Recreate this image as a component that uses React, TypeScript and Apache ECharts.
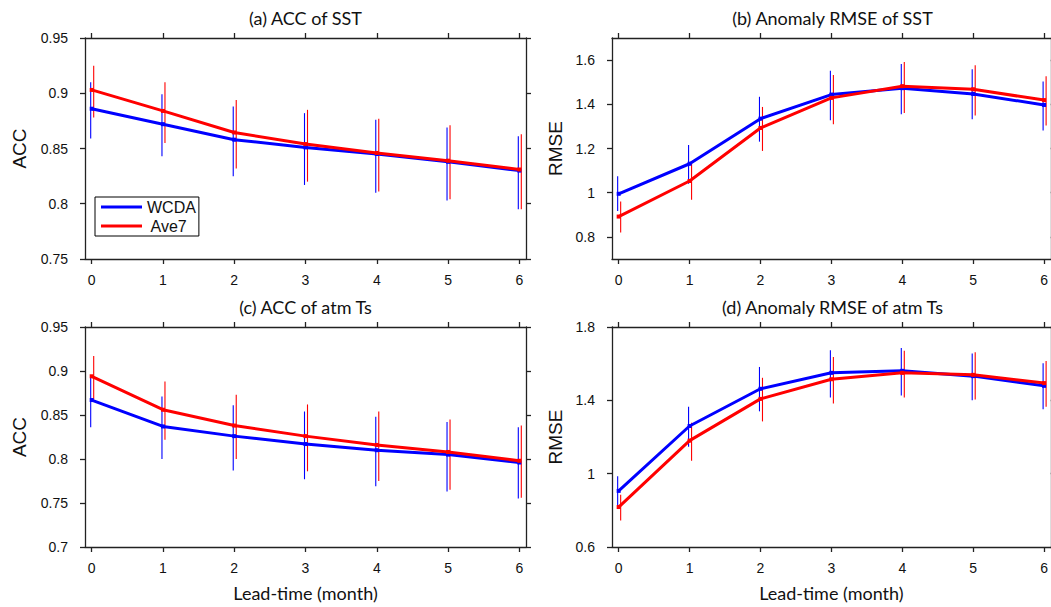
import React, { useEffect, useRef } from "react";
import * as echarts from "echarts";

const leads = [0, 1, 2, 3, 4, 5, 6];
const xTicks = [0, 1, 2, 3, 4, 5, 6];

// (a) ACC of SST
const accSstWcda = [0.886, 0.872, 0.858, 0.851, 0.845, 0.838, 0.83];
const accSstWcdaLo = [0.859, 0.843, 0.825, 0.817, 0.81, 0.803, 0.795];
const accSstWcdaHi = [0.91, 0.899, 0.888, 0.882, 0.876, 0.869, 0.861];
const accSstAve7 = [0.903, 0.884, 0.8645, 0.854, 0.846, 0.839, 0.831];
const accSstAve7Lo = [0.878, 0.855, 0.832, 0.82, 0.811, 0.804, 0.795];
const accSstAve7Hi = [0.925, 0.91, 0.894, 0.885, 0.877, 0.871, 0.863];

// (b) Anomaly RMSE of SST
const rmseSstWcda = [0.995, 1.131, 1.335, 1.444, 1.473, 1.447, 1.397];
const rmseSstWcdaLo = [0.917, 1.04, 1.231, 1.328, 1.355, 1.332, 1.282];
const rmseSstWcdaHi = [1.074, 1.216, 1.434, 1.552, 1.582, 1.559, 1.503];
const rmseSstAve7 = [0.892, 1.053, 1.293, 1.429, 1.482, 1.468, 1.419];
const rmseSstAve7Lo = [0.82, 0.968, 1.189, 1.31, 1.361, 1.349, 1.304];
const rmseSstAve7Hi = [0.96, 1.131, 1.388, 1.533, 1.591, 1.577, 1.527];

// (c) ACC of atm Ts
const accTsWcda = [0.867, 0.837, 0.826, 0.817, 0.81, 0.805, 0.796];
const accTsWcdaLo = [0.836, 0.8, 0.787, 0.777, 0.769, 0.763, 0.755];
const accTsWcdaHi = [0.894, 0.871, 0.861, 0.854, 0.848, 0.842, 0.836];
const accTsAve7 = [0.894, 0.856, 0.838, 0.826, 0.816, 0.808, 0.798];
const accTsAve7Lo = [0.868, 0.822, 0.8, 0.786, 0.775, 0.765, 0.756];
const accTsAve7Hi = [0.917, 0.888, 0.873, 0.862, 0.854, 0.845, 0.838];

// (d) Anomaly RMSE of atm Ts
const rmseTsWcda = [0.906, 1.26, 1.463, 1.55, 1.561, 1.532, 1.479];
const rmseTsWcdaLo = [0.821, 1.147, 1.34, 1.416, 1.427, 1.401, 1.352];
const rmseTsWcdaHi = [0.986, 1.365, 1.582, 1.673, 1.686, 1.655, 1.602];
const rmseTsAve7 = [0.818, 1.18, 1.408, 1.515, 1.55, 1.539, 1.494];
const rmseTsAve7Lo = [0.745, 1.071, 1.285, 1.383, 1.416, 1.405, 1.365];
const rmseTsAve7Hi = [0.885, 1.278, 1.523, 1.637, 1.671, 1.662, 1.615];

const panelTitles = [
  "(a) ACC of SST",
  "(b) Anomaly RMSE of SST",
  "(c) ACC of atm Ts",
  "(d) Anomaly RMSE of atm Ts",
];
const yNames = ["ACC", "RMSE", "ACC", "RMSE"];
const yTicks = [
  [0.75, 0.8, 0.85, 0.9, 0.95],
  [0.8, 1, 1.2, 1.4, 1.6],
  [0.7, 0.75, 0.8, 0.85, 0.9, 0.95],
  [0.6, 1, 1.4, 1.8],
];
const yRanges = [
  [0.75, 0.95],
  [0.7, 1.7],
  [0.7, 0.95],
  [0.6, 1.8],
];
const xLabel = "Lead-time (month)";
const seriesNames = ["WCDA", "Ave7"];

const panels = [
  { w: accSstWcda, wl: accSstWcdaLo, wh: accSstWcdaHi, a: accSstAve7, al: accSstAve7Lo, ah: accSstAve7Hi },
  { w: rmseSstWcda, wl: rmseSstWcdaLo, wh: rmseSstWcdaHi, a: rmseSstAve7, al: rmseSstAve7Lo, ah: rmseSstAve7Hi },
  { w: accTsWcda, wl: accTsWcdaLo, wh: accTsWcdaHi, a: accTsAve7, al: accTsAve7Lo, ah: accTsAve7Hi },
  { w: rmseTsWcda, wl: rmseTsWcdaLo, wh: rmseTsWcdaHi, a: rmseTsAve7, al: rmseTsAve7Lo, ah: rmseTsAve7Hi },
];

const BLUE = "#0000ff";
const RED = "#ff0000";
const AXIS = "#222";
const TICK_FONT = "'Liberation Sans', Arial, sans-serif";
const TITLE_FONT = "Lato, 'Liberation Sans', sans-serif";

const grids = [
  { left: 85, top: 38, width: 441, height: 221 },
  { left: 612, top: 38, width: 441, height: 221 },
  { left: 85, top: 327, width: 441, height: 220 },
  { left: 612, top: 327, width: 441, height: 220 },
];

export default function App() {
  const ref = useRef<HTMLDivElement>(null);
  useEffect(() => {
    if (!ref.current) return;
    const chart = echarts.init(ref.current, null, { renderer: "svg" });
    const lineStyle = { color: AXIS, width: 1.3 };
    const xAxis: any[] = [];
    const yAxis: any[] = [];
    const series: any[] = [];
    const graphic: any[] = [];

    grids.forEach((g, i) => {
      const bottomRow = i >= 2;
      xAxis.push({
        type: "value",
        gridIndex: i,
        position: "bottom",
        min: -0.094,
        max: 6.094,
        axisLine: { show: true, onZero: false, lineStyle },
        axisTick: { show: true, length: 5, customValues: xTicks, lineStyle },
        axisLabel: {
          customValues: xTicks,
          margin: 14,
          fontSize: 14,
          color: "#111",
          fontFamily: TICK_FONT,
        },
        splitLine: { show: false },
        name: bottomRow ? xLabel : "",
        nameLocation: "middle",
        nameGap: 37,
        nameTextStyle: { fontSize: 18, color: "#111", fontFamily: TITLE_FONT },
      });
      xAxis.push({
        type: "value",
        gridIndex: i,
        position: "top",
        min: -0.094,
        max: 6.094,
        axisLine: { show: true, onZero: false, lineStyle },
        axisTick: { show: true, length: 5, customValues: xTicks, lineStyle },
        axisLabel: { show: false },
        splitLine: { show: false },
      });
      yAxis.push({
        type: "value",
        gridIndex: i,
        position: "left",
        min: yRanges[i][0],
        max: yRanges[i][1],
        axisLine: { show: true, onZero: false, lineStyle },
        axisTick: { show: true, length: 5, customValues: yTicks[i], lineStyle },
        axisLabel: {
          customValues: yTicks[i],
          margin: 17,
          fontSize: 14,
          color: "#111",
          fontFamily: TICK_FONT,
        },
        splitLine: { show: false },
        name: yNames[i],
        nameLocation: "middle",
        nameGap: i % 2 === 0 ? 56 : 47,
        nameRotate: 90,
        nameTextStyle: { fontSize: 19, color: "#111", fontFamily: TICK_FONT },
      });
      yAxis.push({
        type: "value",
        gridIndex: i,
        position: "right",
        min: yRanges[i][0],
        max: yRanges[i][1],
        axisLine: { show: true, onZero: false, lineStyle },
        axisTick: { show: true, length: 5, customValues: yTicks[i], lineStyle },
        axisLabel: { show: false },
        splitLine: { show: false },
      });

      const p = panels[i];
      const mkBar = (lo: number[], hi: number[], color: string, off: number, name: string) => ({
        type: "custom",
        name,
        xAxisIndex: i * 2,
        yAxisIndex: i * 2,
        silent: true,
        z: 1,
        data: leads.map((x, k) => [x, lo[k], hi[k]]),
        encode: { x: 0, y: [1, 2] },
        renderItem: (params: any, api: any) => {
          const x = api.value(0);
          const p1 = api.coord([x, api.value(1)]);
          const p2 = api.coord([x, api.value(2)]);
          return {
            type: "line",
            shape: { x1: p1[0] + off, y1: p1[1], x2: p2[0] + off, y2: p2[1] },
            style: { stroke: color, lineWidth: 1.1 },
          };
        },
      });
      series.push(mkBar(p.wl, p.wh, BLUE, -1, seriesNames[0]));
      series.push(mkBar(p.al, p.ah, RED, 2, seriesNames[1]));
      const mkLine = (vals: number[], color: string, name: string, z: number) => ({
        type: "line",
        name,
        xAxisIndex: i * 2,
        yAxisIndex: i * 2,
        data: leads.map((x, k) => [x, vals[k]]),
        symbol: "rect",
        symbolSize: 4,
        showSymbol: true,
        z,
        lineStyle: { color, width: 3 },
        itemStyle: { color },
      });
      series.push(mkLine(p.w, BLUE, seriesNames[0], 3));
      series.push(mkLine(p.a, RED, seriesNames[1], 4));

      graphic.push({
        type: "text",
        x: g.left + 220.5,
        y: g.top - 20,
        style: {
          text: panelTitles[i],
          fontSize: 18,
          fontFamily: TITLE_FONT,
          fill: "#111",
          align: "center",
          verticalAlign: "middle",
          textAlign: "center",
          textVerticalAlign: "middle",
        },
      });
    });

    chart.setOption({
      animation: false,
      backgroundColor: "#fff",
      grid: grids.map((g) => ({ ...g, containLabel: false })),
      xAxis,
      yAxis,
      series,
      graphic,
      legend: {
        data: [
          { name: "WCDA", itemStyle: { color: BLUE } },
          { name: "Ave7", itemStyle: { color: RED } },
        ],
        formatter: (name: string) => (name === "Ave7" ? " " + name : name),
        orient: "vertical",
        left: 95,
        top: 197,
        icon: "rect",
        itemWidth: 41,
        itemHeight: 3,
        itemGap: 3,
        itemTextGap: 3,
        padding: [2, 3, 2, 6],
        borderColor: "#000",
        borderWidth: 1,
        selectedMode: false,
        textStyle: { fontSize: 16, color: "#111", fontFamily: TICK_FONT },
      },
    });
    return () => chart.dispose();
  }, []);
  return (
    <div
      ref={ref}
      style={{ position: "absolute", left: 0, top: 0, width: 1051, height: 607, background: "#fff" }}
    />
  );
}
